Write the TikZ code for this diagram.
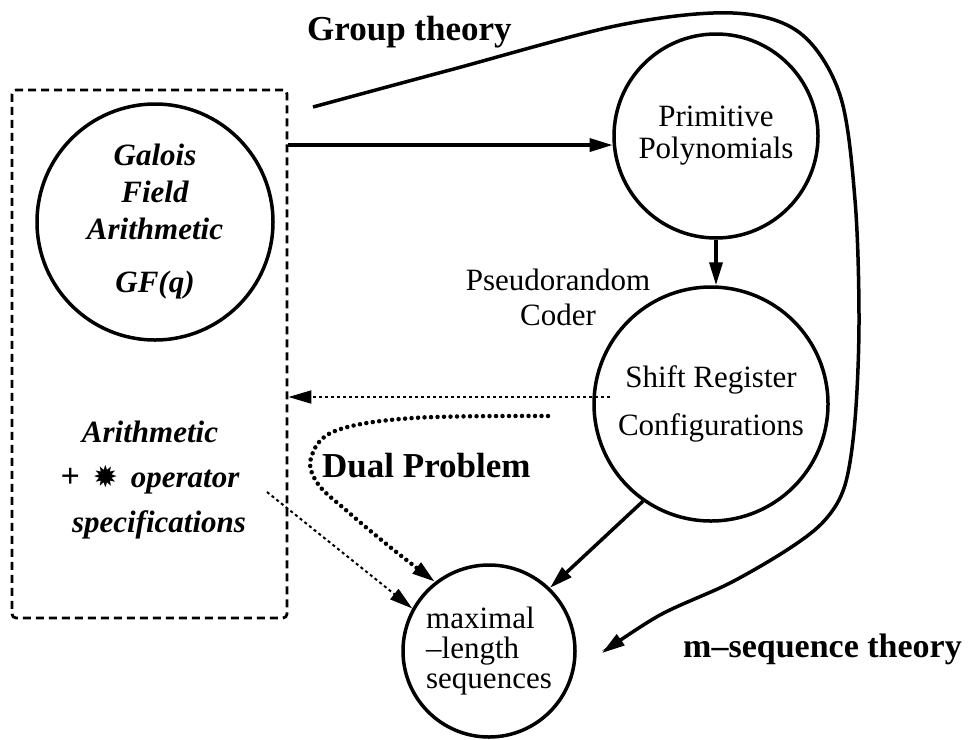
\documentclass[tikz,border=0pt]{standalone}
\usepackage{fontspec}
\setmainfont{Liberation Serif}
\newfontfamily\symfont{DejaVu Sans}
\usetikzlibrary{arrows.meta}
\begin{document}
\begin{tikzpicture}[x=1pt,y=-1pt,
  circ/.style={draw, circle, line width=3.5pt, inner sep=0pt, align=center,
    font=\fontsize{31}{32}\selectfont},
  lab/.style={font=\fontsize{35}{38}\selectfont\bfseries, inner sep=0pt, anchor=base west},
  tip/.style={-{Triangle[length=23pt,width=13pt]}},
  arr/.style={tip, line width=3.5pt},
  finedot/.style={tip, line width=2pt, dash pattern=on 3pt off 3pt},
  dualdot/.style={tip, line width=4.5pt, dash pattern=on 0pt off 6.5pt, line cap=round},
  dashbox/.style={draw, line width=2.8pt, dash pattern=on 8pt off 5pt, rounded corners=4pt,
    inner sep=0pt}
]
\useasboundingbox (0,0) rectangle (968,739);

% dashed container
\node[dashbox, minimum width=275pt, minimum height=528pt] (box) at (149.5,354) {};

% circles
\node[circ, minimum size=236pt, font=\fontsize{31}{37}\selectfont\bfseries\itshape] (gf) at (155,222)
  {Galois\\Field\\Arithmetic\\[16pt]GF(q)};
\node[circ, minimum size=204pt] (prim) at (716,136) {Primitive\\Polynomials};
\node[circ, minimum size=234pt, font=\fontsize{31}{48}\selectfont] (shift) at (711,404)
  {Shift Register\\Configurations};
\node[circ, minimum size=172pt, align=left, font=\fontsize{31}{30}\selectfont] (max) at (489,651)
  {maximal\\--length\\sequences};

% texts
\node[inner sep=0pt, align=center, font=\fontsize{31}{45}\selectfont\bfseries\itshape] (arith) at (150,480)
  {Arithmetic\\{\upshape\fontsize{34}{34}\selectfont+}\, {\symfont\fontsize{30}{30}\selectfont\char"2739}\, operator\\\hspace*{18pt}specifications};
\node[inner sep=0pt, align=center, font=\fontsize{31}{35}\selectfont] (pseudo) at (558,297)
  {Pseudorandom\\Coder};
\node[lab] (group) at (307,40) {Group theory};
\node[lab] (dual) at (322,477) {Dual Problem};
\node[lab, font=\fontsize{34}{38}\selectfont\bfseries] (mseq) at (683,657) {m--sequence theory};

% connectors
\draw[arr] (box.east |- prim.185) -- (prim.185);
\draw[arr] (prim.south) -- (prim.south |- shift.north);
\draw[arr] (shift.235) -- (max.46);

\coordinate (d0) at (610,397);
\draw[finedot] (d0) -- (box.east |- d0);

\coordinate (s0) at (267,492);
\draw[finedot] (s0) -- (max.151);

\coordinate (u0) at (548,416);
\draw[dualdot] plot[smooth, tension=0.6] coordinates
  {(u0) (413,418) (335,431) (311,458) (318,484) (347,511) (390,547) (max.128.5)};

\coordinate (g0) at (313,107);
\coordinate (g1) at (602,653);
\draw[arr] plot[smooth, tension=0.55] coordinates
  {(g0) (450,70) (620,25) (733,13) (800,33) (840,95) (855,200) (859,320) (855,420)
   (845,485) (825,520) (790,548) (730,583) (660,615) (g1)};
\end{tikzpicture}
\end{document}
